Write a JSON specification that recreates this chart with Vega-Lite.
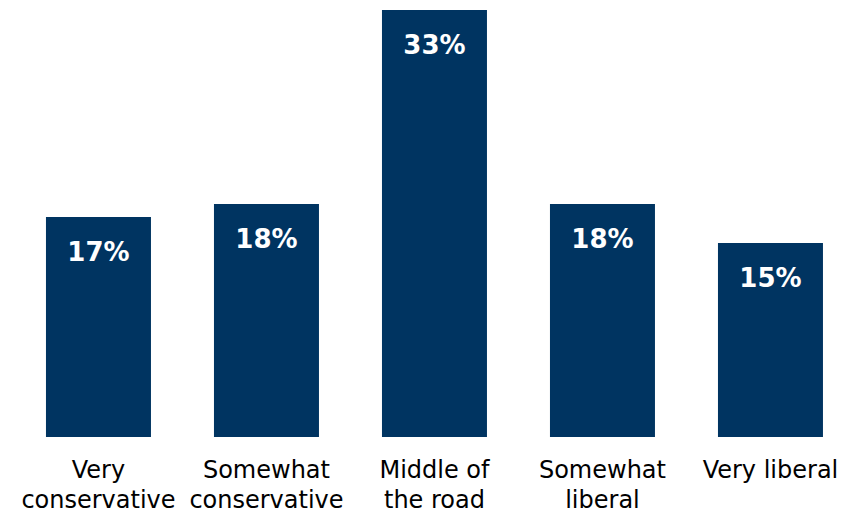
{
  "$schema": "https://vega.github.io/schema/vega-lite/v6.json",
  "width": 845,
  "height": 427,
  "autosize": {"type": "none"},
  "padding": {"top": 10, "left": 0, "right": 0, "bottom": 80},
  "background": "white",
  "config": {"view": {"stroke": null}},
  "data": {
    "values": [
      {"category": "Very conservative", "value": 0.17},
      {"category": "Somewhat conservative", "value": 0.18},
      {"category": "Middle of the road", "value": 0.33},
      {"category": "Somewhat liberal", "value": 0.18},
      {"category": "Very liberal", "value": 0.15}
    ]
  },
  "encoding": {
    "x": {
      "field": "category",
      "type": "nominal",
      "sort": null,
      "scale": {"paddingInner": 0.375, "paddingOuter": 0.2024, "align": 0.676},
      "axis": {
        "title": null,
        "domain": false,
        "ticks": false,
        "labelAngle": 0,
        "labelFont": "DejaVu Sans",
        "labelFontSize": 24,
        "labelColor": "#000000",
        "labelPadding": 21,
        "labelLineHeight": 30,
        "labelLimit": 0,
        "labelExpr": "datum.label == 'Very conservative' ? ['Very', 'conservative'] : datum.label == 'Somewhat conservative' ? ['Somewhat', 'conservative'] : datum.label == 'Middle of the road' ? ['Middle of', 'the road'] : datum.label == 'Somewhat liberal' ? ['Somewhat', 'liberal'] : datum.label"
      }
    },
    "y": {
      "field": "value",
      "type": "quantitative",
      "scale": {"domain": [0, 0.33], "nice": false},
      "axis": null
    }
  },
  "layer": [
    {"mark": {"type": "bar", "color": "#003461"}},
    {
      "mark": {
        "type": "text",
        "color": "white",
        "font": "DejaVu Sans",
        "fontWeight": "bold",
        "fontSize": 26,
        "baseline": "alphabetic",
        "dy": 44
      },
      "encoding": {"text": {"field": "value", "type": "quantitative", "format": ".0%"}}
    }
  ]
}
